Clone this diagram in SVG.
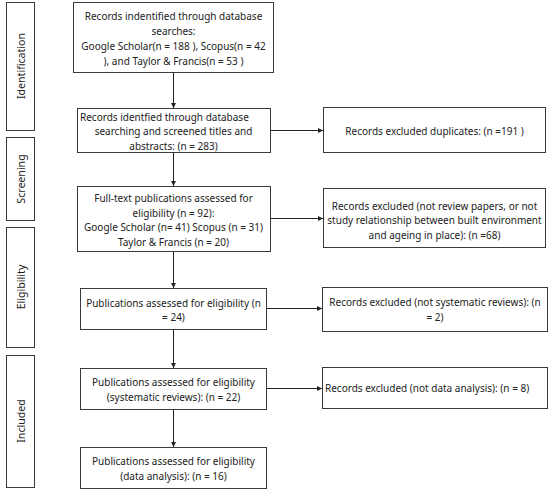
<svg xmlns="http://www.w3.org/2000/svg" width="550" height="490" viewBox="0 0 550 490">
<defs>
<marker id="ah" markerWidth="6" markerHeight="6" refX="5" refY="3" orient="auto" markerUnits="userSpaceOnUse">
<path d="M0,0.5 L5,3 L0,5.5 Z" fill="#222"/>
</marker>
<style>
rect{fill:#fff;stroke:#3a3a3a;stroke-width:1}
text{font-family:"Noto Sans","Open Sans","DejaVu Sans",sans-serif;font-size:10px;fill:#222}
.c{text-anchor:middle}
.s{text-anchor:start}
.v{font-size:10.6px}
.con line{stroke:#222;stroke-width:1;marker-end:url(#ah)}
</style>
</defs>
<rect width="550" height="490" style="stroke:none"/>
<g id="stage-identification"><rect x="6.5" y="2.5" width="28" height="128"/><text class="c v" transform="translate(24.5,66) rotate(-90)">Identification</text></g>
<g id="stage-screening"><rect x="6.5" y="137.5" width="28" height="83"/><text class="c v" transform="translate(24.5,179) rotate(-90)">Screening</text></g>
<g id="stage-eligibility"><rect x="6.5" y="227.5" width="28" height="120"/><text class="c v" transform="translate(24.5,287) rotate(-90)">Eligibility</text></g>
<g id="stage-included"><rect x="6.5" y="355.5" width="28" height="132"/><text class="c v" transform="translate(24.5,421) rotate(-90)">Included</text></g>

<g id="n1"><rect x="73.5" y="2.5" width="200" height="70"/>
<text class="c" x="173.5" y="20">Records indentified through database</text>
<text class="c" x="173.5" y="35">searches:</text>
<text class="c" x="173.5" y="50">Google Scholar(n = 188 ), Scopus(n = 42</text>
<text class="c" x="173.5" y="65">), and Taylor &amp; Francis(n = 53 )</text></g>

<g id="n2"><rect x="77.5" y="108.5" width="193" height="44"/>
<text class="s" x="80" y="121">Records identfied through database</text>
<text class="c" x="173.5" y="135">searching and screened titles and</text>
<text class="c" x="173.5" y="150">abstracts: (n = 283)</text></g>

<g id="n3"><rect x="77.5" y="186.5" width="193" height="65"/>
<text class="c" x="173.5" y="202">Full-text publications assessed for</text>
<text class="c" x="173.5" y="217">eligibility (n = 92):</text>
<text class="c" x="173.5" y="231">Google Scholar (n= 41) Scopus (n = 31)</text>
<text class="c" x="173.5" y="246">Taylor &amp; Francis (n = 20)</text></g>

<g id="n4"><rect x="80.5" y="288.5" width="186" height="41"/>
<text class="c" x="173.5" y="307">Publications assessed for eligibility (n</text>
<text class="c" x="173.5" y="321">= 24)</text></g>

<g id="n5"><rect x="80.5" y="368.5" width="186" height="41"/>
<text class="c" x="173.5" y="386">Publications assessed for eligibility</text>
<text class="c" x="173.5" y="401">(systematic reviews): (n = 22)</text></g>

<g id="n6"><rect x="80.5" y="447.5" width="186" height="41"/>
<text class="c" x="173.5" y="465">Publications assessed for eligibility</text>
<text class="c" x="173.5" y="480">(data analysis):  (n = 16)</text></g>

<g id="r1"><rect x="323.5" y="107.5" width="222" height="45"/>
<text class="c" x="434.5" y="135">Records excluded duplicates: (n =191 )</text></g>

<g id="r2"><rect x="323.5" y="188.5" width="222" height="59"/>
<text class="c" x="434.5" y="210">Records excluded (not review papers, or not</text>
<text class="c" x="434.5" y="224">study relationship between built environment</text>
<text class="c" x="434.5" y="239">and ageing in place): (n =68)</text></g>

<g id="r3"><rect x="322.5" y="287.5" width="225" height="44"/>
<text class="c" x="435" y="306">Records excluded (not systematic reviews): (n</text>
<text class="c" x="435" y="321">= 2)</text></g>

<g id="r4"><rect x="322.5" y="367.5" width="225" height="41"/>
<text class="s" x="325" y="392">Records excluded (not data analysis): (n = 8)</text></g>

<g id="connectors" class="con">
<line x1="173.5" y1="73" x2="173.5" y2="108"/>
<line x1="173.5" y1="153" x2="173.5" y2="186"/>
<line x1="173.5" y1="252" x2="173.5" y2="288"/>
<line x1="173.5" y1="330" x2="173.5" y2="368"/>
<line x1="173.5" y1="410" x2="173.5" y2="447"/>
<line x1="271" y1="130.5" x2="323" y2="130.5"/>
<line x1="271" y1="218.5" x2="323" y2="218.5"/>
<line x1="267" y1="308.5" x2="322" y2="308.5"/>
<line x1="267" y1="388.5" x2="322" y2="388.5"/>
</g>
</svg>
